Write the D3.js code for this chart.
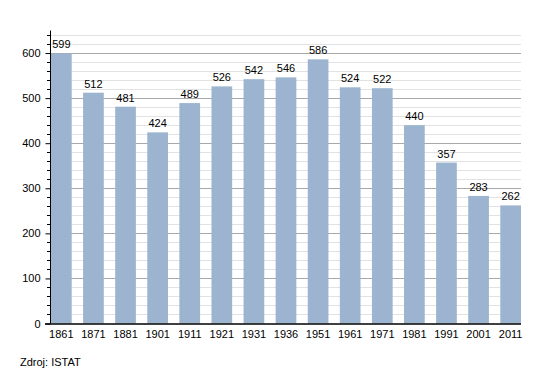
<!DOCTYPE html>
<html><head><meta charset="utf-8">
<script src="https://cdn.jsdelivr.net/npm/d3@7"></script>
<style>body{margin:0;background:#fff;} text{font-family:"Liberation Sans",Arial,sans-serif;}</style>
</head><body>
<svg id="c" width="550" height="373"></svg>
<script>
const years = ["1861","1871","1881","1901","1911","1921","1931","1936","1951","1961","1971","1981","1991","2001","2011"];
const population = [599,512,481,424,489,526,542,546,586,524,522,440,357,283,262];
const yMajorTicks = [0,100,200,300,400,500,600];
const source = "Zdroj: ISTAT";

const svg = d3.select("#c");
const x = d3.scaleBand().domain(years).range([51, 521]).paddingInner(0.355).paddingOuter(0);
const y = d3.scaleLinear().domain([0, 650]).range([323.5, 30.5]);
const minor = d3.range(0, 651, 20).filter(v => v % 100 !== 0);

// minor grid
svg.append("g").selectAll("line").data(minor).join("line")
  .attr("x1", 50).attr("x2", 521).attr("y1", d => Math.round(y(d)) + 0.5).attr("y2", d => Math.round(y(d)) + 0.5)
  .attr("stroke", "#e2e2e2").attr("stroke-width", 1);
// major grid
svg.append("g").selectAll("line").data(yMajorTicks.slice(1)).join("line")
  .attr("x1", 50).attr("x2", 521).attr("y1", d => Math.round(y(d)) + 0.5).attr("y2", d => Math.round(y(d)) + 0.5)
  .attr("stroke", "#a8a8a8").attr("stroke-width", 1);

// bars
svg.append("g").selectAll("rect").data(years).join("rect")
  .attr("x", d => x(d)).attr("width", x.bandwidth())
  .attr("y", (d, i) => y(population[i])).attr("height", (d, i) => y(0) - y(population[i]))
  .attr("fill", "#9cb4cf");

// value labels
svg.append("g").selectAll("text").data(years).join("text")
  .attr("x", d => x(d) + x.bandwidth() / 2).attr("y", (d, i) => y(population[i]) - 5)
  .attr("text-anchor", "middle").attr("font-size", 11).attr("fill", "#000")
  .text((d, i) => population[i]);

// y axis
const yAxis = svg.append("g").attr("transform", "translate(50.5,0)")
  .call(d3.axisLeft(y).tickValues(yMajorTicks).tickSize(5).tickPadding(5).tickFormat(d3.format("d")));
yAxis.select(".domain").attr("d", `M0,${y(650)}V${y(0)}`).attr("stroke", "#000");
yAxis.selectAll("text").attr("font-size", 11).attr("fill", "#000").attr("font-family", "Liberation Sans, Arial, sans-serif");
yAxis.selectAll("line").attr("stroke", "#000");
svg.append("g").selectAll("line").data(minor).join("line")
  .attr("x1", 47).attr("x2", 50).attr("y1", d => Math.round(y(d)) + 0.5).attr("y2", d => Math.round(y(d)) + 0.5)
  .attr("stroke", "#000");

// x axis
const xAxis = svg.append("g").attr("transform", `translate(0,${y(0)})`)
  .call(d3.axisBottom(x).tickSize(0).tickPadding(7));
xAxis.select(".domain").attr("d", `M45,0.5H521`).attr("stroke", "#000").attr("stroke-width", 1.5);
xAxis.selectAll("text").attr("font-size", 11).attr("fill", "#000").attr("font-family", "Liberation Sans, Arial, sans-serif");

svg.append("text").attr("x", 20).attr("y", 366).attr("font-size", 11).attr("fill", "#000").text(source);
</script>
</body></html>
